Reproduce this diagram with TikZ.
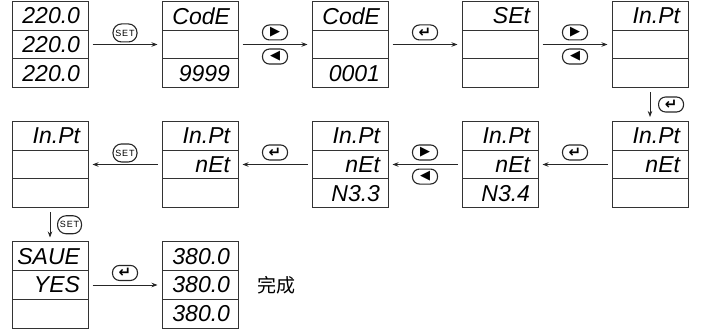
\documentclass[tikz,border=0pt]{standalone}
\usepackage{fontspec}
\setmainfont{Liberation Sans}
\newfontfamily\segfont{Liberation Sans}
\newfontfamily\symfont{DejaVu Sans}
\newfontfamily\cjk{Noto Sans CJK SC}
\usetikzlibrary{shapes.multipart,arrows.meta}

% one line of a meter display
\newcommand{\cell}[1]{\parbox[c][27.67pt][c]{76pt}{\raggedleft #1\kern8pt}}

\begin{document}
\begin{tikzpicture}[x=1pt, y=1pt, node distance=150pt,
  panel/.style={draw=black!80, line width=1pt, rectangle split, rectangle split parts=3, inner sep=0pt, font=\segfont\itshape\fontsize{23}{23}\selectfont},
  key/.style={draw=black!85, line width=1.1pt, rounded corners=7pt, minimum width=25pt, minimum height=15pt, inner sep=0pt, font=\symfont\fontsize{13}{13}\selectfont},
  enterkey/.style={key, font=\symfont\bfseries\fontsize{15}{15}\selectfont},
  setkey/.style={key, rounded corners=8.5pt, minimum width=24pt, minimum height=18pt, font=\addfontfeature{LetterSpace=10}\fontsize{9}{9}\selectfont},
  flow/.style={draw=black!85, line width=0.8pt, -{Stealth[length=6pt, width=4.5pt]}, shorten <=4pt, shorten >=4pt}]

\useasboundingbox (0,0) rectangle (701,-329);

% first row
\node (p11) [panel] at (50,-44.5) {\cell{220.0}\nodepart{two}\cell{220.0}\nodepart{three}\cell{220.0}};
\node (p12) [panel, right of=p11] {\cell{CodE}\nodepart{two}\cell{}\nodepart{three}\cell{9999}};
\node (p13) [panel, right of=p12] {\cell{CodE}\nodepart{two}\cell{}\nodepart{three}\cell{0001}};
\node (p14) [panel, right of=p13] {\cell{SEt}\nodepart{two}\cell{}\nodepart{three}\cell{}};
\node (p15) [panel, right of=p14] {\cell{In.Pt}\nodepart{two}\cell{}\nodepart{three}\cell{}};

% second row, read from right to left
\node (p25) [panel, node distance=120pt, below of=p15] {\cell{In.Pt}\nodepart{two}\cell{nEt}\nodepart{three}\cell{}};
\node (p24) [panel, left of=p25] {\cell{In.Pt}\nodepart{two}\cell{nEt}\nodepart{three}\cell{N3.4}};
\node (p23) [panel, left of=p24] {\cell{In.Pt}\nodepart{two}\cell{nEt}\nodepart{three}\cell{N3.3}};
\node (p22) [panel, left of=p23] {\cell{In.Pt}\nodepart{two}\cell{nEt}\nodepart{three}\cell{}};
\node (p21) [panel, left of=p22] {\cell{In.Pt}\nodepart{two}\cell{}\nodepart{three}\cell{}};

% third row
\node (p31) [panel, node distance=120.5pt, below of=p21] {\cell{SAUE}\nodepart{two}\cell{YES}\nodepart{three}\cell{}};
\node (p32) [panel, right of=p31] {\cell{380.0}\nodepart{two}\cell{380.0}\nodepart{three}\cell{380.0}};
\node (done) [right of=p32, node distance=76pt, font=\cjk\fontsize{19}{19}\selectfont] {完成};

\draw [flow] (p11) -- (p12) node [setkey, midway, above=2pt] (k1) {SET};
\draw [flow] (p12) -- (p13) node [key, midway, above=4pt] (k2r) {▶} node [key, midway, below=4pt] (k2l) {◀};
\draw [flow] (p13) -- (p14) node [enterkey, midway, above=4pt] (k3) {↵};
\draw [flow] (p14) -- (p15) node [key, midway, above=4pt] (k4r) {▶} node [key, midway, below=4pt] (k4l) {◀};
\draw [flow] (p15) -- (p25) node [enterkey, midway, right=8pt] (k5) {↵};

\draw [flow] (p25) -- (p24) node [enterkey, midway, above=4pt] (k6) {↵};
\draw [flow] (p24) -- (p23) node [key, midway, above=4pt] (k7r) {▶} node [key, midway, below=4pt] (k7l) {◀};
\draw [flow] (p23) -- (p22) node [enterkey, midway, above=4pt] (k8) {↵};
\draw [flow] (p22) -- (p21) node [setkey, midway, above=2pt] (k9) {SET};
\draw [flow] (p21) -- (p31) node [setkey, midway, right=7pt] (k10) {SET};

\draw [flow] (p31) -- (p32) node [enterkey, midway, above=4pt] (k11) {↵};

\end{tikzpicture}
\end{document}
